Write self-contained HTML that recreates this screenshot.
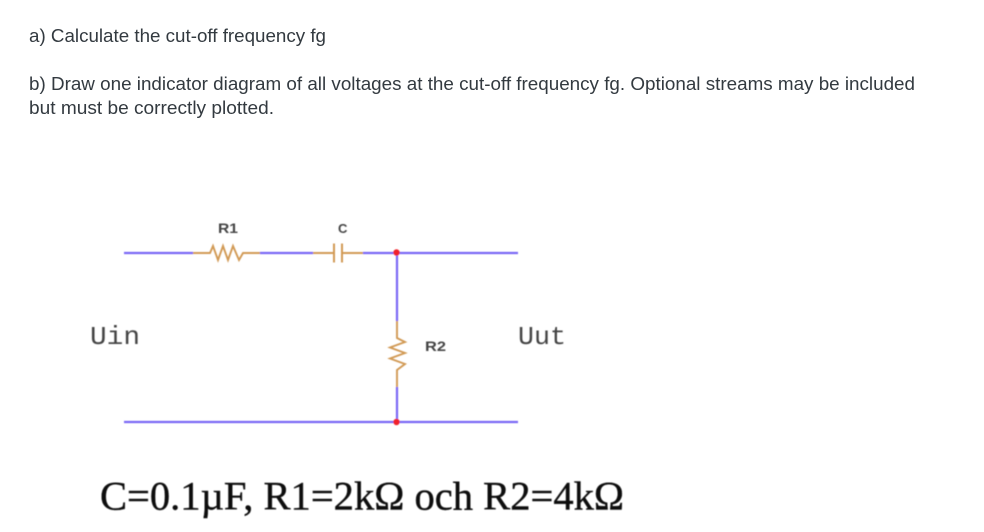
<!DOCTYPE html>
<html>
<head>
<meta charset="utf-8">
<style>
html,body{margin:0;padding:0;background:#fff;width:984px;height:532px;overflow:hidden}
svg{display:block}
</style>
</head>
<body>
<svg width="984" height="532" viewBox="0 0 984 532" xmlns="http://www.w3.org/2000/svg">
<defs>
<filter id="b" x="-5%" y="-5%" width="110%" height="110%"><feGaussianBlur stdDeviation="0.45"/></filter>
</defs>
<rect width="984" height="532" fill="#fff"/>
<g font-family="'Liberation Sans',sans-serif" font-size="18.5" fill="#333a40">
<text x="29" y="42" textLength="297" lengthAdjust="spacingAndGlyphs">a) Calculate the cut-off frequency fg</text>
<text x="29" y="90" textLength="886" lengthAdjust="spacingAndGlyphs">b) Draw one indicator diagram of all voltages at the cut-off frequency fg. Optional streams may be included</text>
<text x="29" y="114" textLength="245" lengthAdjust="spacingAndGlyphs">but must be correctly plotted.</text>
</g>
<g filter="url(#b)">
<g fill="none" stroke-linejoin="miter">
<g stroke="#7a68f5" stroke-width="2.2">
<path d="M124 253H193M260 253H313M363 253H518M397 253V321M397 387V422M124 422H518"/>
</g>
<g stroke="#d19a55" stroke-width="1.9">
<path d="M193 253H210L213 246L218 260L223 246L228 260L233 246L239 260L243 253H260"/>
<path d="M313 253H334M342 253H363"/>
<path d="M334 243.500V262.500M342 243.500V262.500" stroke-width="2"/>
<path d="M397 321V338L405 342L390 347.500L405 353L390 358.500L405 364L397 370V387"/>
</g>
</g>
<circle cx="396.500" cy="252.500" r="3.200" fill="#f0202c"/>
<circle cx="396.500" cy="422" r="3.200" fill="#f0202c"/>
<g font-family="'Liberation Sans',sans-serif" font-size="14" font-weight="bold" fill="#444">
<text x="218" y="233" textLength="20" lengthAdjust="spacingAndGlyphs">R1</text>
<text x="338" y="233" font-size="13">C</text>
<text x="425" y="351" textLength="21" lengthAdjust="spacingAndGlyphs">R2</text>
</g>
<g font-family="'Liberation Mono',monospace" font-size="26" fill="#444">
<text x="90" y="344" textLength="50" lengthAdjust="spacingAndGlyphs">Uin</text>
<text x="518" y="344" textLength="48" lengthAdjust="spacingAndGlyphs">Uut</text>
</g>
<text x="100" y="509.500" font-family="'Liberation Serif',serif" font-size="40" fill="#111" stroke="#111" stroke-width="0.4" textLength="524" lengthAdjust="spacingAndGlyphs">C=0.1µF, R1=2kΩ och R2=4kΩ</text>
</g>
</svg>
</body>
</html>
